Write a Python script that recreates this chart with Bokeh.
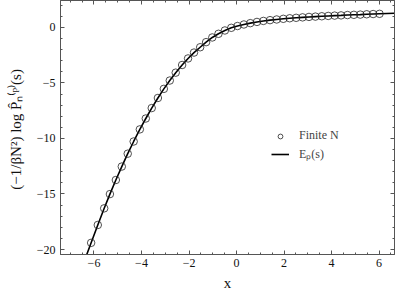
from bokeh.plotting import figure
from bokeh.models import (Range1d, LinearAxis, SingleIntervalTicker, Legend, LegendItem)
from bokeh.embed import file_html
from bokeh.resources import INLINE

# ---- data ----
circle_x = [-6.12, -5.84, -5.57, -5.33, -5.08, -4.83, -4.58, -4.33, -4.07, -3.82,
            -3.57, -3.31, -3.06, -2.81, -2.56, -2.29, -2.04, -1.79, -1.53, -1.28,
            -1.02, -0.76, -0.49, -0.22, 0.04, 0.31, 0.58, 0.86, 1.13, 1.41,
            1.69, 1.97, 2.24, 2.51, 2.78, 3.05, 3.32, 3.59, 3.86, 4.13,
            4.40, 4.67, 4.94, 5.21, 5.48, 5.75, 6.02]
circle_y = [-19.40, -17.79, -16.29, -15.01, -13.74, -12.53, -11.37, -10.27, -9.18, -8.20,
            -7.26, -6.35, -5.53, -4.78, -4.07, -3.38, -2.79, -2.26, -1.78, -1.32,
            -0.90, -0.57, -0.27, -0.03, 0.13, 0.27, 0.39, 0.50, 0.59, 0.66,
            0.72, 0.78, 0.83, 0.87, 0.91, 0.95, 0.98, 1.01, 1.04, 1.07,
            1.09, 1.12, 1.14, 1.16, 1.19, 1.21, 1.23]
curve_x = [-6.40] + circle_x + [6.65]
curve_y = [-21.0] + circle_y + [1.28]

x_label = "x"
y_label = "(\u22121/\u03b2N\u00b2)  log P\u0302\u2099\u207d\u1d56\u207e(s)"
legend_labels = ["Finite N", "E\u209a(s)"]

SERIF = "Liberation Serif"

p = figure(width=399, height=298, output_backend="svg", toolbar_location=None,
           x_range=Range1d(-7.41, 6.65), y_range=Range1d(-20.45, 2.43),
           min_border_left=60, min_border_right=5, min_border_top=0, min_border_bottom=44,
           background_fill_color="white", border_fill_color="white")
p.grid.visible = False
p.outline_line_color = "#555555"

line_r = p.line(curve_x, curve_y, line_color="black", line_width=1.6)
circ_r = p.scatter(circle_x, circle_y, marker="circle", size=7.5, fill_color=None,
                   line_color="#222222", line_width=0.8)

def style(ax, labels=True):
    ax.axis_line_color = "#555555"
    ax.major_tick_in = 4
    ax.major_tick_out = 0
    ax.minor_tick_in = 2
    ax.minor_tick_out = 0
    ax.major_tick_line_color = "#555555"
    ax.minor_tick_line_color = "#555555"
    if labels:
        ax.major_label_text_font = SERIF
        ax.major_label_text_font_size = "12px"
        ax.major_label_text_color = "#111111"
        ax.axis_label_text_font = SERIF
        ax.axis_label_text_font_style = "normal"
        ax.axis_label_text_color = "#111111"
    else:
        ax.major_label_text_font_size = "1px"
        ax.major_label_text_color = None
        ax.major_label_standoff = 0

p.xaxis.ticker = SingleIntervalTicker(interval=2, num_minor_ticks=4)
p.yaxis.ticker = SingleIntervalTicker(interval=5, num_minor_ticks=5)
for ax in p.xaxis:
    style(ax)
    ax.axis_label = x_label
    ax.axis_label_text_font_size = "15px"
    ax.major_label_standoff = 4
    ax.axis_label_standoff = 5
for ax in p.yaxis:
    style(ax)
    ax.axis_label = y_label
    ax.axis_label_text_font_size = "15px"
    ax.major_label_standoff = 5
    ax.axis_label_standoff = 10

top = LinearAxis(ticker=SingleIntervalTicker(interval=2, num_minor_ticks=4))
style(top, labels=False)
p.add_layout(top, "above")
right = LinearAxis(ticker=SingleIntervalTicker(interval=5, num_minor_ticks=5))
style(right, labels=False)
p.add_layout(right, "right")

legend = Legend(items=[LegendItem(label=legend_labels[0], renderers=[circ_r]),
                       LegendItem(label=legend_labels[1], renderers=[line_r])],
                location=(209, 90), background_fill_alpha=0, border_line_alpha=0,
                label_text_font=SERIF, label_text_font_size="12px",
                glyph_width=18, glyph_height=12, spacing=2, padding=2,
                label_standoff=10)
p.add_layout(legend, "center")

open("out.html", "w").write(file_html(p, INLINE))
